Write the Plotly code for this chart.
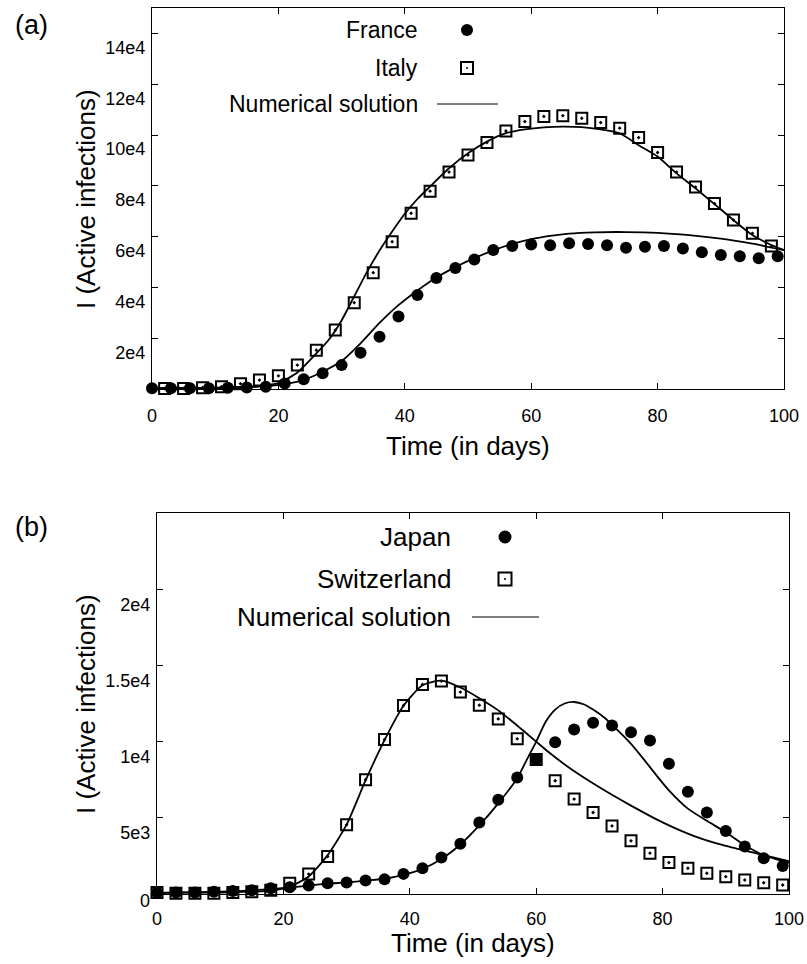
import plotly.graph_objects as go

# ---------------- data: panel (a) ----------------
france_days = [0, 3, 6, 9, 12, 15, 18, 21, 24, 27, 30, 33, 36, 39, 42, 45, 48, 51, 54, 57,
               60, 63, 66, 69, 72, 75, 78, 81, 84, 87, 90, 93, 96, 99]
france_vals = [300, 300, 300, 300, 500, 600, 900, 2200, 3800, 6200, 9400, 14300, 20600, 28500,
               37000, 43700, 47600, 51000, 54700, 56300, 56900, 56600, 57400, 57100, 56600,
               55600, 56000, 56300, 55300, 53800, 52800, 52300, 51500, 52300]

italy_days = [2, 5, 8, 11, 14, 17, 20, 23, 26, 29, 32, 35, 38, 41, 44, 47, 50, 53, 56, 59,
              62, 65, 68, 71, 74, 77, 80, 83, 86, 89, 92, 95, 98]
italy_vals = [200, 200, 500, 900, 2100, 3500, 5200, 9400, 15300, 23200, 34000, 45800, 58000,
              69200, 77900, 85400, 92100, 97000, 101600, 105300, 107300, 107600, 106600,
              104900, 102700, 99000, 93100, 85400, 79500, 73000, 66500, 61300, 56300]

france_fit_days = [0, 10, 15, 18, 21, 24, 27, 30, 33, 36, 39, 42, 45, 48, 51, 54, 57, 60, 63,
                   66, 70, 75, 80, 85, 90, 95, 100]
france_fit_vals = [300, 400, 600, 1100, 1900, 3600, 6800, 11000, 18000, 26000, 33000, 38800,
                   43900, 48000, 51500, 54600, 57100, 59000, 60300, 61200, 61700, 61800,
                   61500, 60600, 59200, 57200, 54700]

italy_fit_days = [0, 5, 10, 14, 17, 20, 23, 26, 28, 30, 32, 34, 36, 38, 40, 42, 44, 47, 50,
                  53, 56, 59, 62, 65, 68, 71, 74, 77, 80, 83, 86, 89, 92, 95, 98, 100]
italy_fit_vals = [200, 300, 500, 800, 1200, 2300, 6500, 14000, 19500, 27000, 36500, 46000,
                  54500, 62000, 69000, 74800, 79700, 86900, 92800, 97400, 100700, 102200,
                  103000, 103300, 103100, 102200, 100700, 96000, 91500, 84900, 79000, 72800,
                  66500, 60600, 56700, 54700]

# ---------------- data: panel (b) ----------------
japan_days = [0, 3, 6, 9, 12, 15, 18, 21, 24, 27, 30, 33, 36, 39, 42, 45, 48, 51, 54, 57,
              60, 63, 66, 69, 72, 75, 78, 81, 84, 87, 90, 93, 96, 99]
japan_vals = [100, 100, 100, 150, 200, 250, 370, 440, 550, 700, 750, 880, 960, 1320, 1690,
              2390, 3290, 4690, 6180, 7650, 8820, 9960, 10790, 11230, 11050, 10610, 10070,
              8550, 6710, 5350, 4140, 3110, 2350, 1840]

swiss_days = [0, 3, 6, 9, 12, 15, 18, 21, 24, 27, 30, 33, 36, 39, 42, 45, 48, 51, 54, 57,
              60, 63, 66, 69, 72, 75, 78, 81, 84, 87, 90, 93, 96, 99]
swiss_vals = [100, 50, 50, 50, 100, 150, 250, 700, 1310, 2460, 4540, 7500, 10130, 12370,
              13750, 13970, 13250, 12390, 11490, 10180, 8820, 7430, 6230, 5350, 4470, 3490,
              2680, 2060, 1690, 1360, 1140, 920, 740, 590]

japan_fit_days = [0, 10, 18, 21, 24, 27, 30, 33, 36, 39, 42, 45, 48, 51, 54, 57, 58.5, 60,
                  61.5, 63, 64.5, 66, 67.5, 69, 71, 73, 75, 77, 79, 81, 84, 87, 90, 93, 96, 100]
japan_fit_vals = [80, 150, 320, 430, 550, 680, 760, 880, 1000, 1250, 1650, 2300, 3250, 4500,
                  5950, 7600, 8800, 10000, 11300, 12100, 12500, 12600, 12450, 12100, 11500,
                  10700, 9850, 8850, 7800, 6800, 5600, 4800, 4050, 3200, 2550, 2050]

swiss_fit_days = [0, 10, 15, 18, 21, 24, 27, 30, 33, 36, 39, 42, 45, 48, 51, 54, 57, 60, 62,
                  65, 70, 75, 80, 85, 90, 95, 100]
swiss_fit_vals = [80, 100, 150, 220, 480, 1150, 2550, 4550, 7450, 10100, 12350, 13700, 14000,
                  13550, 12850, 12050, 11050, 10000, 9300, 8350, 7000, 5800, 4700, 3800, 3150,
                  2650, 2150]

# ---------------- axis ticks / labels ----------------
x_ticks = [0, 20, 40, 60, 80, 100]
ya_ticks = [20000, 40000, 60000, 80000, 100000, 120000, 140000]
ya_text = ["2e4", "4e4", "6e4", "8e4", "10e4", "12e4", "14e4"]
yb_ticks = [5000, 10000, 15000, 20000]
yb_text = ["5e3", "1e4", "1.5e4", "2e4"]

W, H = 807, 964
FONT = "Liberation Sans, Arial, Helvetica, sans-serif"


def px(x):
    return x / W


def py(y):
    return 1 - y / H


fig = go.Figure()

dot_marker = dict(symbol="circle", size=12, color="black", line=dict(width=0))
sq_marker = dict(symbol="square-open-dot", size=11, color="black", line=dict(width=2, color="black"))
fit_line = dict(color="black", width=1.8, shape="spline", smoothing=0.6)

# panel (a)
fig.add_trace(go.Scatter(x=france_fit_days, y=france_fit_vals, mode="lines", line=fit_line,
                         xaxis="x", yaxis="y", showlegend=False))
fig.add_trace(go.Scatter(x=italy_fit_days, y=italy_fit_vals, mode="lines", line=fit_line,
                         xaxis="x", yaxis="y", showlegend=False))
fig.add_trace(go.Scatter(x=france_days, y=france_vals, mode="markers", marker=dot_marker,
                         xaxis="x", yaxis="y", cliponaxis=False, showlegend=False))
fig.add_trace(go.Scatter(x=italy_days, y=italy_vals, mode="markers", marker=sq_marker,
                         xaxis="x", yaxis="y", cliponaxis=False, showlegend=False))

# panel (b)
fig.add_trace(go.Scatter(x=japan_fit_days, y=japan_fit_vals, mode="lines", line=fit_line,
                         xaxis="x2", yaxis="y2", showlegend=False))
fig.add_trace(go.Scatter(x=swiss_fit_days, y=swiss_fit_vals, mode="lines", line=fit_line,
                         xaxis="x2", yaxis="y2", showlegend=False))
fig.add_trace(go.Scatter(x=swiss_days, y=swiss_vals, mode="markers", marker=sq_marker,
                         xaxis="x2", yaxis="y2", cliponaxis=False, showlegend=False))
fig.add_trace(go.Scatter(x=japan_days, y=japan_vals, mode="markers", marker=dot_marker,
                         xaxis="x2", yaxis="y2", cliponaxis=False, showlegend=False))

axis_common = dict(showline=True, linecolor="black", linewidth=1.3, mirror="ticks",
                   ticks="inside", ticklen=6, tickwidth=1, tickcolor="black",
                   showgrid=False, zeroline=False, automargin=False,
                   tickfont=dict(family=FONT, size=18, color="black"))

fig.update_layout(
    width=W, height=H, autosize=False,
    margin=dict(l=0, r=0, t=0, b=0, pad=0, autoexpand=False),
    paper_bgcolor="white", plot_bgcolor="white",
    font=dict(family=FONT, color="black"),
    showlegend=False,
    xaxis=dict(domain=[px(152), px(784)], range=[0, 100], tickvals=x_ticks, anchor="y",
               ticklabelstandoff=10, **axis_common),
    yaxis=dict(domain=[py(389), py(8)], range=[0, 150000], tickvals=ya_ticks, ticktext=ya_text,
               anchor="x", ticklabelshift=14, ticklabelstandoff=2, **axis_common),
    xaxis2=dict(domain=[px(157), px(789)], range=[0, 100], tickvals=x_ticks, anchor="y2",
                ticklabelstandoff=8, **axis_common),
    yaxis2=dict(domain=[py(894), py(513)], range=[0, 25000], tickvals=yb_ticks, ticktext=yb_text,
                anchor="x2", ticklabelshift=15, ticklabelstandoff=2, **axis_common),
)

ann = []
shapes = []


def text(x, y, s, size, xanchor="center", angle=0):
    ann.append(dict(x=px(x), y=py(y), xref="paper", yref="paper", text=s, showarrow=False,
                    xanchor=xanchor, yanchor="middle", textangle=angle,
                    font=dict(family=FONT, size=size, color="black")))


# panel labels and axis titles
text(31, 25, "(a)", 27)
text(31, 527, "(b)", 27)
text(468, 446, "Time (in days)", 26)
text(473, 943, "Time (in days)", 26)
text(86, 199, "I (Active infections)", 26, angle=-90)
text(86, 704, "I (Active infections)", 26, angle=-90)
text(152, 901, "0", 18, xanchor="right")


def legend(right_x, sym_x, rows, size, r, line_x0, line_x1):
    (t1, y1), (t2, y2), (t3, y3) = rows
    text(right_x, y1, t1, size, xanchor="right")
    text(right_x, y2, t2, size, xanchor="right")
    text(right_x, y3, t3, size, xanchor="right")
    shapes.append(dict(type="circle", xref="paper", yref="paper", xsizemode="pixel",
                       ysizemode="pixel", xanchor=px(sym_x), yanchor=py(y1),
                       x0=-r, x1=r, y0=-r, y1=r, fillcolor="black", line=dict(width=0)))
    shapes.append(dict(type="rect", xref="paper", yref="paper", xsizemode="pixel",
                       ysizemode="pixel", xanchor=px(sym_x), yanchor=py(y2),
                       x0=-r, x1=r, y0=-r, y1=r, fillcolor="white",
                       line=dict(width=2, color="black")))
    shapes.append(dict(type="circle", xref="paper", yref="paper", xsizemode="pixel",
                       ysizemode="pixel", xanchor=px(sym_x), yanchor=py(y2),
                       x0=-1, x1=1, y0=-1, y1=1, fillcolor="black", line=dict(width=0)))
    shapes.append(dict(type="line", xref="paper", yref="paper", x0=px(line_x0), x1=px(line_x1),
                       y0=py(y3), y1=py(y3), line=dict(width=1, color="black")))


legend(420, 467, [("France", 30), ("Italy", 68), ("Numerical solution", 104)], 23, 6, 437, 498)
legend(453, 505, [("Japan", 537), ("Switzerland", 579), ("Numerical solution", 617)], 26, 6.5, 472, 539)

fig.update_layout(annotations=ann, shapes=shapes)

post = ("var s=document.createElement('style');"
        "s.innerHTML='html,body{margin:0;padding:0;overflow:hidden;}';"
        "document.head.appendChild(s);")

fig.write_html("out.html", config={"responsive": False}, post_script=post)
